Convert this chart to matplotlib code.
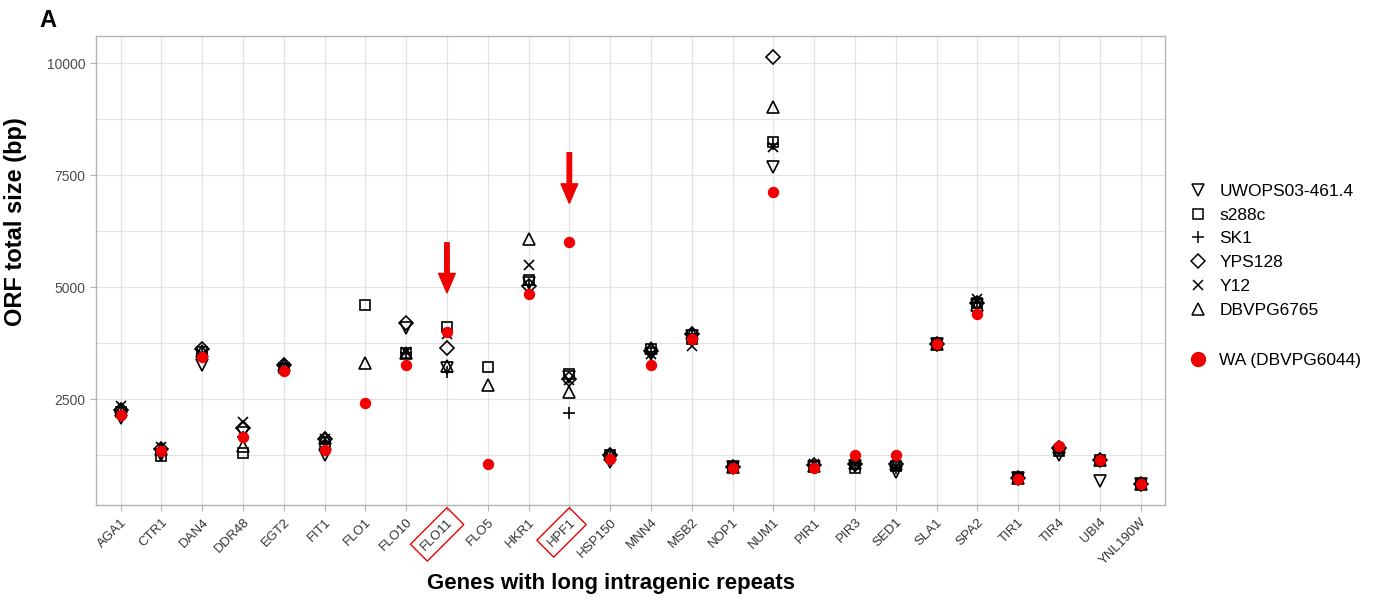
import numpy as np
import matplotlib
matplotlib.use("Agg")
import matplotlib.pyplot as plt
from matplotlib.lines import Line2D

plt.rcParams["font.family"] = ["Liberation Sans", "DejaVu Sans"]

nan = np.nan
VERMELHO = "#f00000"

genes = ["AGA1", "CTR1", "DAN4", "DDR48", "EGT2", "FIT1", "FLO1", "FLO10",
         "FLO11", "FLO5", "HKR1", "HPF1", "HSP150", "MNN4", "MSB2", "NOP1",
         "NUM1", "PIR1", "PIR3", "SED1", "SLA1", "SPA2", "TIR1", "TIR4",
         "UBI4", "YNL190W"]

# tamanho total do ORF (pb) por linhagem
uwops = [2080, 1250, 3250, 1750, 3150, 1250, nan, 4080, 3200, nan, 5100, 3000,
         1100, 3500, 3900, 980, 7680, 980, 1000, 870, 3720, 4600, 740, 1260,
         660, 610]
s288c = [2200, 1220, 3550, 1300, 3200, 1550, 4600, 3520, 4110, 3220, 5150, 3050,
         1250, 3620, 3850, 990, 8240, 1000, 960, 1000, 3720, 4650, 740, 1350,
         1140, 610]
sk1 = [2200, 1300, 3500, 1650, 3150, 1550, nan, 3530, 3100, nan, 5050, 2190,
       1200, 3550, 3900, 980, 8200, 1000, 1050, 950, 3720, 4650, 740, 1380,
       1140, 610]
yps128 = [2250, 1380, 3620, 1850, 3250, 1600, nan, 4200, 3650, nan, 5030, 2950,
          1250, 3580, 3950, 990, 10130, 1030, 1050, 1050, 3720, 4640, 740, 1400,
          1140, 610]
y12 = [2350, 1420, 3500, 1980, 3200, 1600, nan, 3560, 3950, nan, 5490, 2920,
       1200, 3500, 3680, 980, 8130, 1050, 1050, 1000, 3720, 4740, 740, 1380,
       1140, 610]
dbvpg6765 = [2250, 1380, 3570, 1450, 3250, 1640, 3310, 3530, 3230, 2810, 6080, 2660,
             1280, 3650, 3980, 980, 9020, 1000, 1080, 1050, 3720, 4600, 740, 1420,
             1140, 610]
wa = [2150, 1350, 3450, 1650, 3120, 1370, 2410, 3260, 4000, 1040, 4850, 6000,
      1170, 3250, 3830, 970, 7120, 960, 1240, 1260, 3720, 4400, 720, 1460,
      1145, 610]

linhagens = [
    ("UWOPS03-461.4", uwops, "v"),
    ("s288c", s288c, "s"),
    ("SK1", sk1, "+"),
    ("YPS128", yps128, "D"),
    ("Y12", y12, "x"),
    ("DBVPG6765", dbvpg6765, "^"),
]

destaques = ["FLO11", "HPF1"]
# setas: gene, inicio, ponta (pb)
setas = [("FLO11", 5990, 4870), ("HPF1", 8000, 6870)]


def tam_marcador(m):
    return {"D": 7.0, "s": 7.5, "+": 8.5, "x": 7.0}.get(m, 8.5)


fig = plt.figure(figsize=(13.76, 6.0), dpi=100)
ax = fig.add_axes([0.0698, 0.1583, 0.7769, 0.7817])

x = np.arange(len(genes))
for nome, valores, m in linhagens:
    ax.plot(x, valores, linestyle="none", marker=m, ms=tam_marcador(m),
            mfc="none", mec="black", mew=1.2, label=nome, zorder=3)
ax.plot(x, wa, linestyle="none", marker="o", ms=7.2, color=VERMELHO,
        mec=VERMELHO, label="WA (DBVPG6044)", zorder=4)

for gene, ini, fim in setas:
    gx = genes.index(gene)
    ax.annotate("", xy=(gx, fim), xytext=(gx, ini),
                arrowprops=dict(facecolor=VERMELHO, edgecolor=VERMELHO,
                                width=3.2, headwidth=12, headlength=14),
                zorder=5)

todos = np.concatenate([np.array(v, dtype=float) for _, v, _ in linhagens] + [np.array(wa, dtype=float)])
ymin, ymax = np.nanmin(todos), np.nanmax(todos)
pad = 0.05 * (ymax - ymin)
ax.set_ylim(ymin - pad, ymax + pad)
ax.set_xlim(-0.6, len(genes) - 0.4)

ax.set_yticks([2500, 5000, 7500, 10000])
ax.set_yticks([1250, 3750, 6250, 8750], minor=True)
ax.set_xticks(x)
ax.set_xticklabels(genes, rotation=45, ha="right", va="top",
                   rotation_mode="anchor", fontsize=9.5, color="#333333")
ax.tick_params(axis="y", labelsize=10, labelcolor="#4d4d4d", color="#b3b3b3",
               length=4)
ax.tick_params(axis="x", color="#b3b3b3", length=4, pad=4)
ax.tick_params(axis="y", which="minor", length=0)
for lbl in ax.get_xticklabels():
    if lbl.get_text() in destaques:
        lbl.set_bbox(dict(boxstyle="square,pad=0.45", fc="none",
                          ec=VERMELHO, lw=1.0))

ax.grid(True, which="both", color="#e3e3e3", lw=0.9)
ax.set_axisbelow(True)
for s in ax.spines.values():
    s.set_color("#b3b3b3")
    s.set_linewidth(1.0)

ax.set_ylabel("ORF total size (bp)", fontsize=17, fontweight="bold")
ax.yaxis.set_label_coords(-0.065, 0.605)
ax.set_xlabel("Genes with long intragenic repeats", fontsize=16,
              fontweight="bold")
ax.xaxis.set_label_coords(0.482, -0.145)
fig.text(0.029, 0.955, "A", fontsize=17, fontweight="bold")

# duas legendas: formas das linhagens e o WA em vermelho
h_formas = [Line2D([], [], linestyle="none", marker=m, ms=tam_marcador(m),
                   mfc="none", mec="black", mew=1.1) for _, _, m in linhagens]
fig.legend(h_formas, [n for n, _, _ in linhagens], loc="upper left",
           bbox_to_anchor=(0.852, 0.72), frameon=False, fontsize=12.5,
           handlelength=1.2, handletextpad=0.6, labelspacing=0.5)
h_wa = [Line2D([], [], linestyle="none", marker="o", ms=10, color=VERMELHO)]
fig.legend(h_wa, ["WA (DBVPG6044)"], loc="upper left",
           bbox_to_anchor=(0.852, 0.438), frameon=False, fontsize=12.5,
           handlelength=1.2, handletextpad=0.6)

fig.savefig("out.png", dpi=100)
